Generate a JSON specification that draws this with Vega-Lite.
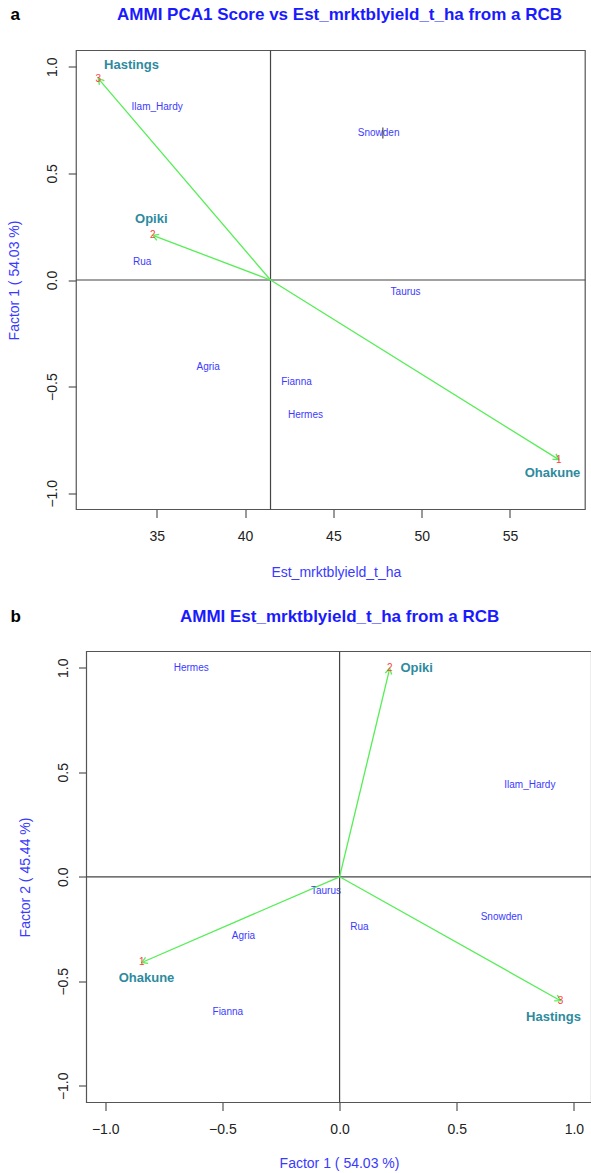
{
  "$schema": "https://vega.github.io/schema/vega-lite/v6.json",
  "padding": {"left": 7.5, "top": 5.5, "right": 0, "bottom": 0},
  "config": {
    "font": "Liberation Sans",
    "view": {"stroke": null},
    "axis": {"grid": false, "domain": false, "tickColor": "#555555", "tickWidth": 1.2, "tickSize": 8, "labelFont": "Liberation Sans", "labelFontSize": 14, "labelColor": "#222222", "titleFont": "Liberation Sans", "titleFontSize": 14, "titleColor": "#3a3aff", "titleFontWeight": "normal"},
    "axisY": {"labelAngle": -90, "labelAlign": "center", "labelBaseline": "bottom", "labelPadding": 8.5, "titlePadding": 24},
    "axisX": {"labelPadding": 11.5, "titlePadding": 22}
  },
  "columns": 1,
  "spacing": 28,
  "datasets": {
    "genoA": [
      {"geno": "Agria", "x": 37.91, "y": -0.410},
      {"geno": "Fianna", "x": 42.91, "y": -0.477},
      {"geno": "Hermes", "x": 43.42, "y": -0.633},
      {"geno": "Ilam_Hardy", "x": 35.02, "y": 0.812},
      {"geno": "Rua", "x": 34.17, "y": 0.085},
      {"geno": "Snowden", "x": 47.56, "y": 0.691},
      {"geno": "Taurus", "x": 49.09, "y": -0.058}
    ],
    "genoB": [
      {"geno": "Agria", "x": -0.410, "y": -0.284},
      {"geno": "Fianna", "x": -0.477, "y": -0.649},
      {"geno": "Hermes", "x": -0.633, "y": 0.997},
      {"geno": "Ilam_Hardy", "x": 0.812, "y": 0.439},
      {"geno": "Rua", "x": 0.085, "y": -0.239},
      {"geno": "Snowden", "x": 0.691, "y": -0.191},
      {"geno": "Taurus", "x": -0.058, "y": -0.068}
    ],
    "envA": [
      {"env": "Ohakune", "code": "1", "x": 57.77, "y": -0.842, "lx": 57.41, "ly": -0.905},
      {"env": "Opiki", "code": "2", "x": 34.78, "y": 0.209, "lx": 34.69, "ly": 0.286},
      {"env": "Hastings", "code": "3", "x": 31.69, "y": 0.944, "lx": 33.57, "ly": 1.006}
    ],
    "envB": [
      {"env": "Ohakune", "code": "1", "x": -0.844, "y": -0.410, "lx": -0.824, "ly": -0.483},
      {"env": "Opiki", "code": "2", "x": 0.214, "y": 0.997, "lx": 0.329, "ly": 0.997},
      {"env": "Hastings", "code": "3", "x": 0.943, "y": -0.593, "lx": 0.913, "ly": -0.673}
    ],
    "headA": [{"tag": "a", "title": "AMMI PCA1 Score vs Est_mrktblyield_t_ha from a RCB"}],
    "headB": [{"tag": "b", "title": "AMMI Est_mrktblyield_t_ha from a RCB"}],
    "markA": [{"x": 47.80, "y": 0.689}]
  },
  "concat": [
    {
      "width": 498.7,
      "height": 459,
      "layer": [
        {
          "data": {"name": "genoA"},
          "mark": {"type": "text", "color": "#3b3bff", "fontSize": 10},
          "encoding": {
            "x": {"field": "x", "type": "quantitative", "scale": {"domain": [31.02, 59.26], "nice": false, "zero": false}, "axis": {"values": [35, 40, 45, 50, 55], "title": "Est_mrktblyield_t_ha"}},
            "y": {"field": "y", "type": "quantitative", "scale": {"domain": [-1.076, 1.076], "nice": false, "zero": false}, "axis": {"values": [-1, -0.5, 0, 0.5, 1], "format": ".1f", "title": "Factor 1 ( 54.03 %)", "offset": 10.3}},
            "text": {"field": "geno"}
          }
        },
        {
          "data": {"name": "headA"},
          "mark": {"type": "rect", "filled": false, "stroke": "#555555", "strokeWidth": 1.2},
          "encoding": {"x": {"datum": 30.44, "type": "quantitative"}, "x2": {"datum": 59.26}, "y": {"datum": -1.076, "type": "quantitative"}, "y2": {"datum": 1.076}}
        },
        {
          "data": {"name": "headA"},
          "mark": {"type": "rule", "color": "#444444", "strokeWidth": 1.2},
          "encoding": {"x": {"datum": 41.44, "type": "quantitative"}}
        },
        {
          "data": {"name": "headA"},
          "mark": {"type": "rule", "color": "#444444", "strokeWidth": 1.2},
          "encoding": {"y": {"datum": 0, "type": "quantitative"}, "x": {"datum": 30.44, "type": "quantitative"}, "x2": {"datum": 59.26}}
        },
        {
          "data": {"name": "envA"},
          "mark": {"type": "rule", "color": "#55ee55", "strokeWidth": 1.3},
          "encoding": {
            "x": {"field": "x", "type": "quantitative"},
            "y": {"field": "y", "type": "quantitative"},
            "x2": {"datum": 41.44},
            "y2": {"datum": 0}
          }
        },
        {
          "data": {"name": "envA"},
          "transform": [{"filter": "datum.env == 'Ohakune'"}],
          "mark": {"type": "point", "shape": "M -1 -0.6 L 0 0 L -1 0.6", "filled": false, "stroke": "#55ee55", "strokeWidth": 1.3, "size": 120, "angle": 32, "opacity": 1},
          "encoding": {"x": {"field": "x", "type": "quantitative"}, "y": {"field": "y", "type": "quantitative"}}
        },
        {
          "data": {"name": "envA"},
          "transform": [{"filter": "datum.env == 'Opiki'"}],
          "mark": {"type": "point", "shape": "M -1 -0.6 L 0 0 L -1 0.6", "filled": false, "stroke": "#55ee55", "strokeWidth": 1.3, "size": 120, "angle": 200.7, "opacity": 1},
          "encoding": {"x": {"field": "x", "type": "quantitative"}, "y": {"field": "y", "type": "quantitative"}}
        },
        {
          "data": {"name": "envA"},
          "transform": [{"filter": "datum.env == 'Hastings'"}],
          "mark": {"type": "point", "shape": "M -1 -0.6 L 0 0 L -1 0.6", "filled": false, "stroke": "#55ee55", "strokeWidth": 1.3, "size": 120, "angle": 229.4, "opacity": 1},
          "encoding": {"x": {"field": "x", "type": "quantitative"}, "y": {"field": "y", "type": "quantitative"}}
        },
        {
          "data": {"name": "envA"},
          "mark": {"type": "text", "color": "#ff4040", "fontSize": 10},
          "encoding": {"x": {"field": "x", "type": "quantitative"}, "y": {"field": "y", "type": "quantitative"}, "text": {"field": "code"}}
        },
        {
          "data": {"name": "envA"},
          "mark": {"type": "text", "color": "#2e8a9e", "fontSize": 13, "fontWeight": "bold"},
          "encoding": {"x": {"field": "lx", "type": "quantitative"}, "y": {"field": "ly", "type": "quantitative"}, "text": {"field": "env"}}
        },
        {
          "data": {"name": "markA"},
          "mark": {"type": "tick", "orient": "vertical", "color": "#333333", "size": 11, "thickness": 1.5},
          "encoding": {"x": {"field": "x", "type": "quantitative"}, "y": {"field": "y", "type": "quantitative"}}
        },
        {
          "data": {"name": "headA"},
          "mark": {"type": "text", "fontSize": 17, "fontWeight": "bold", "color": "#000000", "align": "left", "baseline": "middle"},
          "encoding": {"x": {"datum": 26.72, "type": "quantitative"}, "y": {"datum": 1.243, "type": "quantitative"}, "text": {"field": "tag"}}
        },
        {
          "data": {"name": "headA"},
          "mark": {"type": "text", "fontSize": 17, "fontWeight": "bold", "color": "#1a1aff", "align": "center", "baseline": "middle"},
          "encoding": {"x": {"datum": 45.35, "type": "quantitative"}, "y": {"datum": 1.243, "type": "quantitative"}, "text": {"field": "title"}}
        }
      ]
    },
    {
      "width": 505,
      "height": 451,
      "layer": [
        {
          "data": {"name": "genoB"},
          "mark": {"type": "text", "color": "#3b3bff", "fontSize": 10},
          "encoding": {
            "x": {"field": "x", "type": "quantitative", "scale": {"domain": [-1.08, 1.075], "nice": false, "zero": false}, "axis": {"values": [-1, -0.5, 0, 0.5, 1], "format": ".1f", "title": "Factor 1 ( 54.03 %)", "titlePadding": 20}},
            "y": {"field": "y", "type": "quantitative", "scale": {"domain": [-1.08, 1.078], "nice": false, "zero": false}, "axis": {"values": [-1, -0.5, 0, 0.5, 1], "format": ".1f", "title": "Factor 2 ( 45.44 %)"}},
            "text": {"field": "geno"}
          }
        },
        {
          "data": {"name": "headB"},
          "mark": {"type": "rect", "filled": false, "stroke": "#555555", "strokeWidth": 1.2},
          "encoding": {"x": {"datum": -1.08, "type": "quantitative"}, "x2": {"datum": 1.075}, "y": {"datum": -1.08, "type": "quantitative"}, "y2": {"datum": 1.078}}
        },
        {
          "data": {"name": "headB"},
          "mark": {"type": "rule", "color": "#444444", "strokeWidth": 1.2},
          "encoding": {"x": {"datum": 0, "type": "quantitative"}}
        },
        {
          "data": {"name": "headB"},
          "mark": {"type": "rule", "color": "#444444", "strokeWidth": 1.2},
          "encoding": {"y": {"datum": 0, "type": "quantitative"}}
        },
        {
          "data": {"name": "envB"},
          "mark": {"type": "rule", "color": "#55ee55", "strokeWidth": 1.3},
          "encoding": {
            "x": {"field": "x", "type": "quantitative"},
            "y": {"field": "y", "type": "quantitative"},
            "x2": {"datum": 0},
            "y2": {"datum": 0}
          }
        },
        {
          "data": {"name": "envB"},
          "transform": [{"filter": "datum.env == 'Ohakune'"}],
          "mark": {"type": "point", "shape": "M -1 -0.6 L 0 0 L -1 0.6", "filled": false, "stroke": "#55ee55", "strokeWidth": 1.3, "size": 120, "angle": 156.6, "opacity": 1},
          "encoding": {"x": {"field": "x", "type": "quantitative"}, "y": {"field": "y", "type": "quantitative"}}
        },
        {
          "data": {"name": "envB"},
          "transform": [{"filter": "datum.env == 'Opiki'"}],
          "mark": {"type": "point", "shape": "M -1 -0.6 L 0 0 L -1 0.6", "filled": false, "stroke": "#55ee55", "strokeWidth": 1.3, "size": 120, "angle": 283.5, "opacity": 1},
          "encoding": {"x": {"field": "x", "type": "quantitative"}, "y": {"field": "y", "type": "quantitative"}}
        },
        {
          "data": {"name": "envB"},
          "transform": [{"filter": "datum.env == 'Hastings'"}],
          "mark": {"type": "point", "shape": "M -1 -0.6 L 0 0 L -1 0.6", "filled": false, "stroke": "#55ee55", "strokeWidth": 1.3, "size": 120, "angle": 29.3, "opacity": 1},
          "encoding": {"x": {"field": "x", "type": "quantitative"}, "y": {"field": "y", "type": "quantitative"}}
        },
        {
          "data": {"name": "envB"},
          "mark": {"type": "text", "color": "#ff4040", "fontSize": 10},
          "encoding": {"x": {"field": "x", "type": "quantitative"}, "y": {"field": "y", "type": "quantitative"}, "text": {"field": "code"}}
        },
        {
          "data": {"name": "envB"},
          "mark": {"type": "text", "color": "#2e8a9e", "fontSize": 13, "fontWeight": "bold"},
          "encoding": {"x": {"field": "lx", "type": "quantitative"}, "y": {"field": "ly", "type": "quantitative"}, "text": {"field": "env"}}
        },
        {
          "data": {"name": "headB"},
          "mark": {"type": "text", "fontSize": 17, "fontWeight": "bold", "color": "#000000", "align": "left", "baseline": "middle"},
          "encoding": {"x": {"datum": -1.404, "type": "quantitative"}, "y": {"datum": 1.244, "type": "quantitative"}, "text": {"field": "tag"}}
        },
        {
          "data": {"name": "headB"},
          "mark": {"type": "text", "fontSize": 17, "fontWeight": "bold", "color": "#1a1aff", "align": "center", "baseline": "middle"},
          "encoding": {"x": {"datum": 0, "type": "quantitative"}, "y": {"datum": 1.244, "type": "quantitative"}, "text": {"field": "title"}}
        }
      ]
    }
  ]
}
